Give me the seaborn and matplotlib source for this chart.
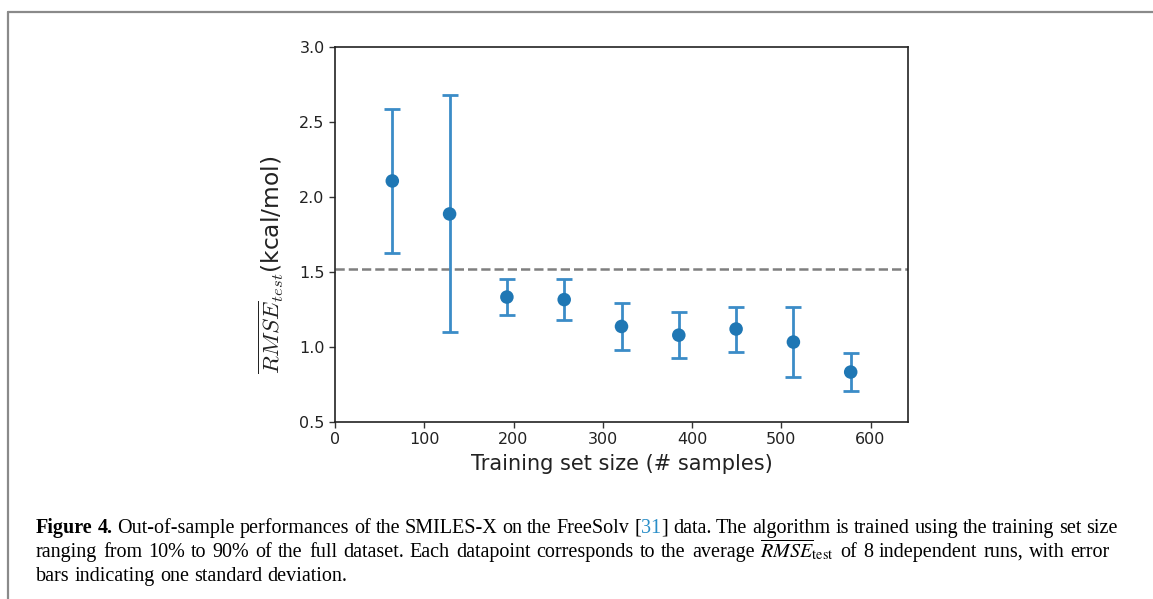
import matplotlib
matplotlib.use("Agg")
import matplotlib.pyplot as plt
import seaborn as sns
from matplotlib.lines import Line2D

# values
train_size = [64.2, 128.4, 192.6, 256.8, 321.0, 385.2, 449.4, 513.6, 577.8]
rmse_mean = [2.107, 1.887, 1.333, 1.316, 1.137, 1.079, 1.12, 1.033, 0.833]
rmse_std = [0.481, 0.79, 0.121, 0.138, 0.155, 0.155, 0.15, 0.236, 0.127]
baseline_rmse = 1.519
x_ticks = [0, 100, 200, 300, 400, 500, 600]
y_ticks = [0.5, 1.0, 1.5, 2.0, 2.5, 3.0]

caption_lines = [
    [("Figure 4.", "bold", "black"),
     (" Out-of-sample performances of the SMILES-X on the FreeSolv [", "normal", "black"),
     ("31", "normal", "#2a8ec8"),
     ("] data. The algorithm is trained using the training set size", "normal", "black")],
    [("ranging from 10% to 90% of the full dataset. Each datapoint corresponds to the average ", "normal", "black"),
     (r"$\overline{RMSE}_{\mathrm{test}}$", "normal", "black"),
     (" of 8 independent runs, with error", "normal", "black")],
    [("bars indicating one standard deviation.", "normal", "black")],
]
# right end (px) of each caption line in the reference, None = natural spacing
caption_ends = [1118, 1110, None]

W, H = 1153, 599
sns.set_theme(context="notebook", style="ticks")
plt.rcParams["font.family"] = ["DejaVu Sans"]
plt.rcParams["mathtext.fontset"] = "cm"

fig = plt.figure(figsize=(W / 100, H / 100), dpi=100)
fig.patch.set_facecolor("white")

# axes placed in pixel units of the reference
ax = fig.add_axes([335 / W, 1 - 422 / H, (908 - 335) / W, (422 - 47) / H])

ax.errorbar(train_size, rmse_mean, yerr=rmse_std, fmt="none",
            ecolor="#3b8cc7", elinewidth=2.0, capsize=5.5, capthick=2.0, zorder=2)
sns.scatterplot(x=train_size, y=rmse_mean, color="#1f77b4", s=95,
                edgecolor="none", zorder=3, ax=ax)
ax.axhline(baseline_rmse, color="#7f7f7f", linestyle="--", linewidth=1.8, zorder=1)

ax.set_xlim(0, 642)
ax.set_ylim(0.5, 3.0)
ax.set_xticks(x_ticks)
ax.set_yticks(y_ticks)
ax.set_xticklabels([str(v) for v in x_ticks])
ax.set_yticklabels([f"{v:.1f}" for v in y_ticks])
ax.tick_params(labelsize=11.5, length=4, width=1.0, color="#333333", labelcolor="#222222")
for sp in ax.spines.values():
    sp.set_visible(True)
    sp.set_color("#222222")
    sp.set_linewidth(1.2)

ax.set_xlabel("Training set size (# samples)", fontsize=15, color="#222222", labelpad=5)
ax.set_ylabel(r"$\overline{RMSE}_{test}$(kcal/mol)", fontsize=16.8, color="#222222")
ax.yaxis.set_label_coords(-0.085, 0.42)

# outer frame (top and left edges)
frame_kw = dict(color="#8a8a8a", linewidth=1.6, transform=fig.transFigure)
fig.add_artist(Line2D([8 / W, 1.0], [1 - 12 / H, 1 - 12 / H], **frame_kw))
fig.add_artist(Line2D([8 / W, 8 / W], [1 - 12 / H, 0.0], **frame_kw))

# caption, word by word so bold/coloured parts follow on and lines fill their width
renderer = fig.canvas.get_renderer()
cap_size = 14.5
cap_kw = dict(fontsize=cap_size, family="Liberation Serif", math_fontfamily="stix",
              va="baseline", ha="left")


def text_width(s, **kw):
    t = fig.text(0, 0, s, **kw)
    w = t.get_window_extent(renderer=renderer).width
    t.remove()
    return w


space_w = text_width("a a", **cap_kw) - text_width("aa", **cap_kw)
baselines = [533, 557, 581]
x0 = 36.0
for pieces, yb, x_end in zip(caption_lines, baselines, caption_ends):
    segs = []
    pending = False
    for text, weight, color in pieces:
        for i, part in enumerate(text.split(" ")):
            if i > 0:
                pending = True
            if part:
                segs.append((part, weight, color, pending and bool(segs)))
                pending = False
    artists = []
    total = 0.0
    for part, weight, color, gap_before in segs:
        t = fig.text(0, 1 - yb / H, part, fontweight=weight, color=color, **cap_kw)
        w = t.get_window_extent(renderer=renderer).width
        artists.append((t, w, gap_before))
        total += w
    n_gaps = sum(1 for _, _, g in artists if g)
    gap = space_w if x_end is None else (x_end - x0 - total) / n_gaps
    x = x0
    for t, w, gap_before in artists:
        if gap_before:
            x += gap
        t.set_x(x / W)
        x += w

fig.savefig("out.png", dpi=100)
